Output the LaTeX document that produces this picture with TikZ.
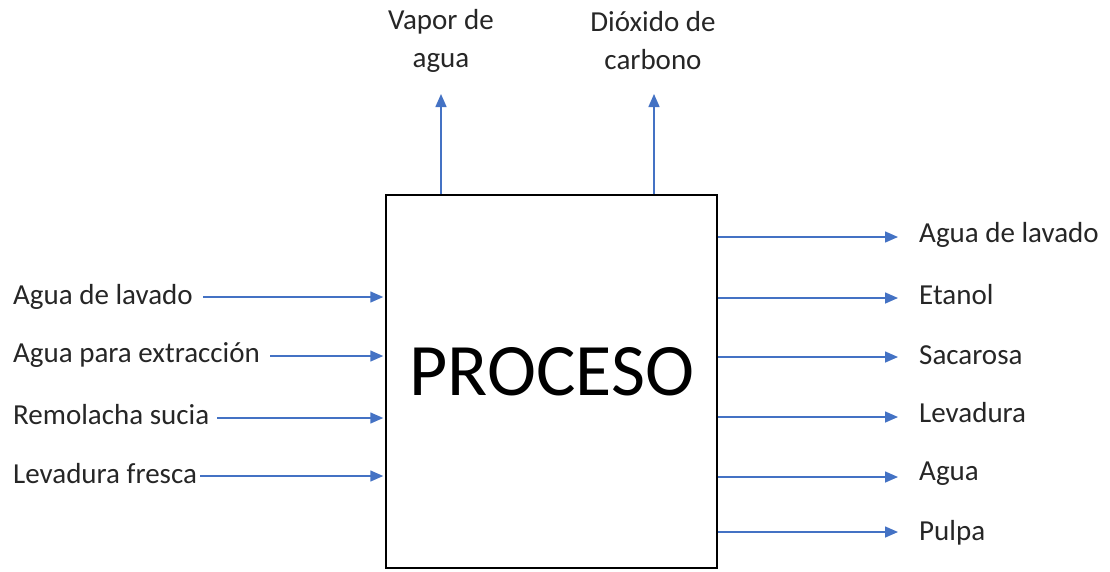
\documentclass[tikz,border=0pt]{standalone}
\usepackage{fontspec}
\setmainfont{Carlito}
\usetikzlibrary{arrows.meta}
\definecolor{flowblue}{HTML}{4472C4}
\tikzset{
  lbl/.style={inner sep=3pt, font=\fontsize{29}{38}\selectfont, text=black!85},
  flow/.style={draw=flowblue, line width=1.5pt, -{Triangle[length=13pt,width=11pt]}},
  procbox/.style={draw=black, line width=1.5pt, minimum width=331pt, minimum height=373pt, inner sep=0pt},
  proctext/.style={inner sep=0pt, font=\fontsize{74}{80}\selectfont}
}
\begin{document}
\begin{tikzpicture}[x=1pt,y=-1pt]
\useasboundingbox (0,0) rectangle (1110,571);
\node[procbox] (P) at (551.5,381.5) {};
\node[proctext, anchor=center] (PT) at (552,372) {PROCESO};
% inputs
\node[lbl, anchor=west] (i1) at (10,297) {Agua de lavado};
\node[lbl, anchor=west] (i2) at (10,355) {Agua para extracción};
\node[lbl, anchor=west] (i3) at (10,415) {Remolacha sucia};
\node[lbl, anchor=west] (i4) at (10,474) {Levadura fresca};
\coordinate (a1) at (203,297);
\coordinate (a2) at (270,356);
\coordinate (a3) at (217,418);
\coordinate (a4) at (200,476);
\foreach \k in {1,...,4}{
  \draw[flow, shorten >=2pt] (a\k) -- (a\k -| P.west);
}
% outputs
\node[lbl, anchor=west] (o1) at (916,235) {Agua de lavado};
\node[lbl, anchor=west] (o2) at (916,295) {Etanol};
\node[lbl, anchor=west] (o3) at (916,355) {Sacarosa};
\node[lbl, anchor=west] (o4) at (916,413) {Levadura};
\node[lbl, anchor=west] (o5) at (916,474) {Agua};
\node[lbl, anchor=west] (o6) at (916,533) {Pulpa};
\coordinate (b1) at (898,237);
\coordinate (b2) at (898,298);
\coordinate (b3) at (898,357);
\coordinate (b4) at (898,417);
\coordinate (b5) at (898,477);
\coordinate (b6) at (898,532);
\foreach \k in {1,...,6}{
  \draw[flow] (b\k -| P.east) -- (b\k);
}
% top outputs
\node[lbl, align=center] (t1) at (441,41) {Vapor de\\agua};
\node[lbl, align=center] (t2) at (653,41) {Dióxido de\\carbono};
\coordinate (c1) at (441,94);
\coordinate (c2) at (654,94);
\draw[flow] (c1 |- P.north) -- (c1);
\draw[flow] (c2 |- P.north) -- (c2);
\end{tikzpicture}
\end{document}
